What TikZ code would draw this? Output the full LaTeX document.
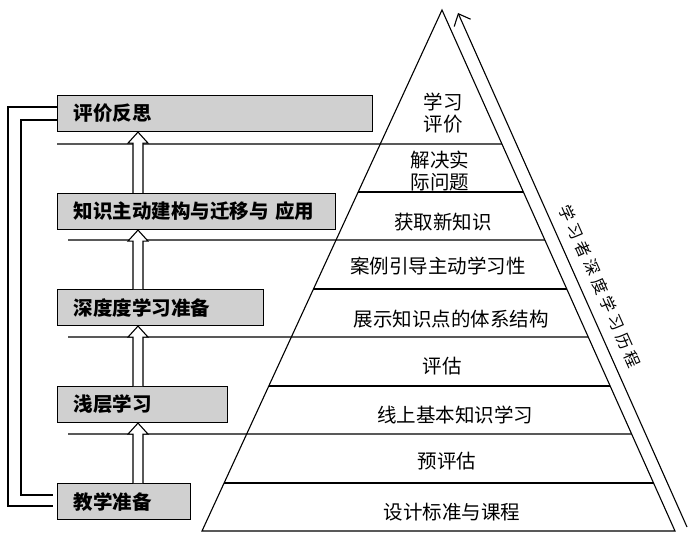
\documentclass[tikz,border=0pt]{standalone}
\usepackage{fontspec}
\setmainfont{Noto Sans CJK SC}
\usetikzlibrary{arrows.meta,calc}
\newcommand\hollowup[2]{%
  \draw[hollow] ($(#1.north -| ax)+(-5,0)$) -- ($(#2.south -| ax)+(-5,11)$) -- ($(#2.south -| ax)+(-10,11)$) -- (#2.south -| ax) -- ($(#2.south -| ax)+(10,11)$) -- ($(#2.south -| ax)+(5,11)$) -- ($(#1.north -| ax)+(5,0)$);}
\begin{document}
\begin{tikzpicture}[x=1pt,y=-1pt,line width=1.1pt,
  box/.style={draw=black,fill=gray!37,inner xsep=16pt,inner ysep=0pt,minimum height=36pt,align=left,anchor=north west,font=\fontsize{19.5}{22}\selectfont\bfseries},
  lvl/.style={font=\fontsize{19.5}{22}\selectfont,align=center,inner sep=0pt},
  hollow/.style={draw=black,fill=white,line width=1.1pt,line join=miter},
  plain/.style={draw=black,line width=1.1pt}]
\useasboundingbox (0,0) rectangle (690,537);
% pyramid
\coordinate (apex) at (442,10);
\coordinate (bl) at (202,531);
\coordinate (br) at (675,531);
\coordinate (ax) at (138,0);
\draw[plain,line join=miter] (bl) -- (apex) -- (br) -- cycle;
\foreach \t in {0.3493,0.5355,0.7217,0.9079}
  \draw[plain] ($(apex)!\t!(bl)$) -- ($(apex)!\t!(br)$);
\coordinate (e1) at (57,144);
\coordinate (e2) at (68,240);
\coordinate (e3) at (68,337);
\coordinate (e4) at (68,434);
\draw[plain] (e1) -- ($(apex)!0.2572!(br)$);
\draw[plain] (e2) -- ($(apex)!0.4415!(br)$);
\draw[plain] (e3) -- ($(apex)!0.6276!(br)$);
\draw[plain] (e4) -- ($(apex)!0.8138!(br)$);
% levels
\node[lvl] (l1) at (443,113) {学习\\评价};
\node[lvl] (l2) at (440,171) {解决实\\际问题};
\node[lvl] (l3) at (443,222) {获取新知识};
\node[lvl] (l4) at (438,266) {案例引导主动学习性};
\node[lvl] (l5) at (451,319) {展示知识点的体系结构};
\node[lvl] (l6) at (442,366) {评估};
\node[lvl] (l7) at (455,415) {线上基本知识学习};
\node[lvl] (l8) at (447,461) {预评估};
\node[lvl] (l9) at (452,512) {设计标准与课程};
% side arrow
\coordinate (s1) at (687,527);
\coordinate (s2) at (458,13);
\draw[plain,-{Straight Barb[length=10pt,width=18pt]}] (s1) -- (s2);
\node[rotate=-66,font=\fontsize{16}{16}\selectfont,inner sep=0pt] (lab) at (600,286)
  {学\kern4pt 习\kern4pt 者\kern4pt 深\kern4pt 度\kern4pt 学\kern4pt 习\kern4pt 历\kern4pt 程};
% boxes
\node[box,text width=283pt] (b1) at (57,95) {评价反思};
\node[box,text width=246pt] (b2) at (57,193) {知识主动建构与迁移与 应用};
\node[box,text width=174pt] (b3) at (57,289) {深度度学习准备};
\node[box,text width=138pt] (b4) at (57,386) {浅层学习};
\node[box,text width=101pt] (b5) at (57,483) {教学准备};
% hollow arrows
\hollowup{b5}{b4}
\hollowup{b4}{b3}
\hollowup{b3}{b2}
\hollowup{b2}{b1}
% feedback lines
\draw[plain] ($(b1.north west)+(0,12)$) -| ($(b5.north west)+(-49,23)$) -- ($(b5.north west)+(-4,23)$);
\draw[plain] ($(b1.north west)+(0,25)$) -| ($(b5.north west)+(-36,12)$) -- ($(b5.north west)+(-4,12)$);
\end{tikzpicture}
\end{document}
